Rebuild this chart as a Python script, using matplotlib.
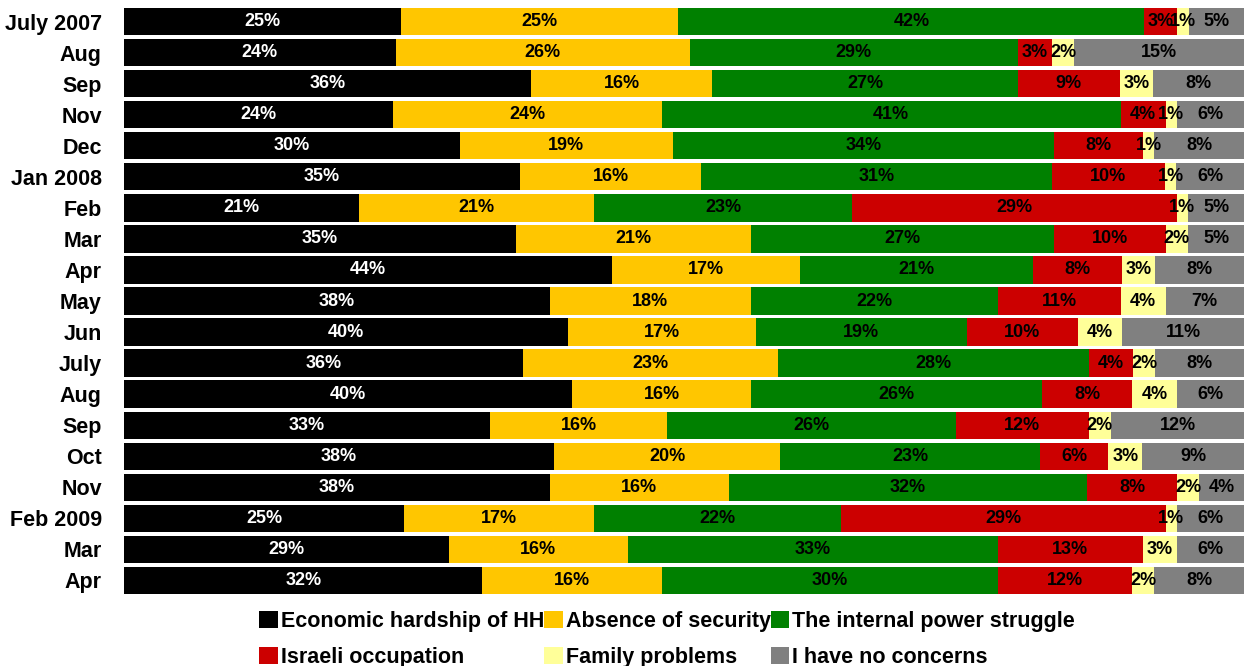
import matplotlib
matplotlib.use("Agg")
import matplotlib.pyplot as plt
from matplotlib.patches import Patch
import numpy as np

# survey periods (top to bottom)
periods = ["July 2007", "Aug", "Sep", "Nov", "Dec", "Jan 2008", "Feb", "Mar", "Apr",
           "May", "Jun", "July", "Aug", "Sep", "Oct", "Nov", "Feb 2009", "Mar", "Apr"]

categories = ["Economic hardship of HH", "Absence of security", "The internal power struggle",
              "Israeli occupation", "Family problems", "I have no concerns"]

economic = [25, 24, 36, 24, 30, 35, 21, 35, 44, 38, 40, 36, 40, 33, 38, 38, 25, 29, 32]
security = [25, 26, 16, 24, 19, 16, 21, 21, 17, 18, 17, 23, 16, 16, 20, 16, 17, 16, 16]
internal = [42, 29, 27, 41, 34, 31, 23, 27, 21, 22, 19, 28, 26, 26, 23, 32, 22, 33, 30]
occupation = [3, 3, 9, 4, 8, 10, 29, 10, 8, 11, 10, 4, 8, 12, 6, 8, 29, 13, 12]
family = [1, 2, 3, 1, 1, 1, 1, 2, 3, 4, 4, 2, 4, 2, 3, 2, 1, 3, 2]
no_concerns = [5, 15, 8, 6, 8, 6, 5, 5, 8, 7, 11, 8, 6, 12, 9, 4, 6, 6, 8]

colors = ["#000000", "#FFC600", "#008000", "#CC0000", "#FFFF99", "#808080"]
text_colors = ["white", "black", "black", "black", "black", "black"]

series = np.array([economic, security, internal, occupation, family, no_concerns], dtype=float)
shares = series / series.sum(axis=0) * 100

fig = plt.figure(figsize=(12.44, 6.66), dpi=100)
ax = fig.add_axes([124 / 1244, 1 - 596 / 666, 1120 / 1244, 590 / 666])

y = np.arange(len(periods))
left = np.zeros(len(periods))
for i, cat in enumerate(categories):
    ax.barh(y, shares[i], left=left, height=0.88, color=colors[i], label=cat)
    for j in range(len(periods)):
        ax.text(left[j] + shares[i][j] / 2, y[j], f"{int(series[i][j])}%",
                ha="center", va="center", fontsize=13, fontweight="bold",
                color=text_colors[i], family="Liberation Sans")
    left += shares[i]

ax.set_xlim(0, 100)
ax.set_ylim(len(periods) - 0.5, -0.5)
ax.set_yticks(y)
ax.set_yticklabels(periods, fontsize=15.5, fontweight="bold", family="Liberation Sans")
ax.tick_params(axis="y", length=0, pad=16)
ax.set_xticks([])
for s in ax.spines.values():
    s.set_visible(False)

# legend: two rows of three
order = [0, 3, 1, 4, 2, 5]
handles = [Patch(facecolor=colors[k], label=categories[k]) for k in order]
fig.legend(handles=handles, ncol=3, loc="lower left", bbox_to_anchor=(240 / 1244, -0.032),
           frameon=False, handlelength=0.85, handleheight=0.85, handletextpad=0.15,
           columnspacing=0.0, labelspacing=0.7,
           prop={"family": "Liberation Sans", "weight": "bold", "size": 15.5})

fig.savefig("out.png", dpi=100)
